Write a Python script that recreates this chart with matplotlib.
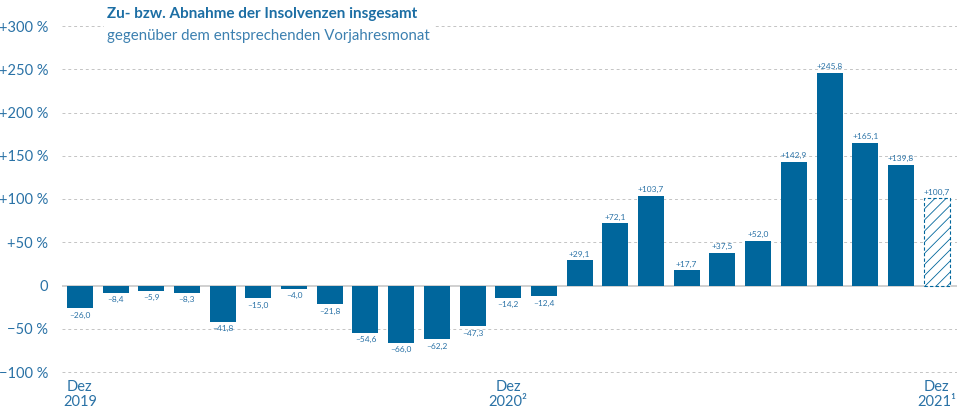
import matplotlib.pyplot as plt
import numpy as np

# Veränderung gegenüber Vorjahresmonat, Dez 2019 .. Dez 2021
werte = [-26.0, -8.4, -5.9, -8.3, -41.8, -15.0, -4.0, -21.8, -54.6, -66.0,
         -62.2, -47.3, -14.2, -12.4, 29.1, 72.1, 103.7, 17.7, 37.5, 52.0,
         142.9, 245.8, 165.1, 139.8, 100.7]
x_labels = {0: 'Dez\n2019', 12: 'Dez\n2020²', 24: 'Dez\n2021¹'}
y_ticks = [-100, -50, 0, 50, 100, 150, 200, 250, 300]
y_labels = ['\u2212100 %', '\u221250 %', '0', '+50 %', '+100 %', '+150 %',
            '+200 %', '+250 %', '+300 %']

blau = '#00669c'
textblau = '#2a72a6'
plt.rcParams['font.family'] = ['Lato', 'DejaVu Sans']
plt.rcParams['hatch.linewidth'] = 0.6

fig = plt.figure(figsize=(9.57, 4.09), dpi=100)
ax = fig.add_axes([62/957, 37/409, 895/957, 346/409])

x = np.arange(len(werte))
for i, v in enumerate(werte):
    if i == len(werte) - 1:
        ax.bar(i, v, width=0.73, color='white', edgecolor=blau, hatch='///',
               linestyle=(0, (3, 2)), linewidth=0.8, zorder=3)
    else:
        ax.bar(i, v, width=0.73, color=blau, zorder=3)
    s = ('+' if v > 0 else '\u2013') + f'{abs(v):.1f}'.replace('.', ',')
    if v > 0:
        ax.text(i, v + 3, s, ha='center', va='bottom', fontsize=6, color=textblau)
    else:
        ax.text(i, v - 4, s, ha='center', va='top', fontsize=6, color=textblau)

ax.set_xlim(-0.5, 24.57)
ax.set_ylim(-100, 300)
ax.set_yticks(y_ticks)
ax.set_yticklabels(y_labels, color=textblau, fontsize=10.5)
ax.set_xticks(list(x_labels.keys()))
ax.set_xticklabels(list(x_labels.values()), color=textblau, fontsize=10.5,
                   linespacing=1.1)
ax.tick_params(length=0, pad=10)
ax.tick_params(axis='x', pad=6)
for t in y_ticks:
    if t == 0:
        ax.axhline(0, color='#c8c8c8', linewidth=1.2, zorder=2)
    else:
        ax.axhline(t, color='#c4c4c4', linewidth=0.7, linestyle=(0, (3, 3)),
                   zorder=1, clip_on=False)
for sp in ax.spines.values():
    sp.set_visible(False)

fig.text(107/957, 1 - 14/409, 'Zu- bzw. Abnahme der Insolvenzen insgesamt',
         fontsize=11, fontweight='bold', color='#1c6ea4', va='center',
         bbox=dict(facecolor='white', edgecolor='none', pad=3))
fig.text(107/957, 1 - 36/409, 'gegenüber dem entsprechenden Vorjahresmonat',
         fontsize=10.8, color='#3c80b0', va='center',
         bbox=dict(facecolor='white', edgecolor='none', pad=2))

fig.savefig('out.png', dpi=100)
